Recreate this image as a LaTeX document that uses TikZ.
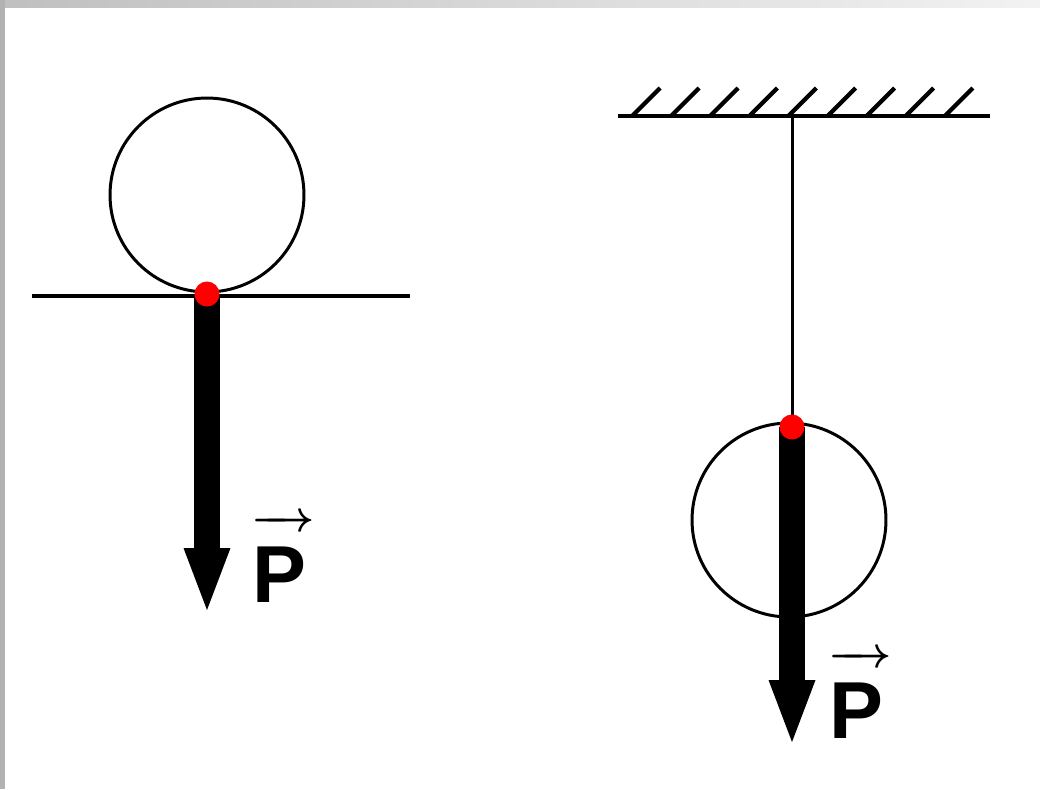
\documentclass[tikz,border=0pt]{standalone}
\usepackage{fontspec}
\setmainfont{Liberation Sans}
\usetikzlibrary{arrows.meta}

\tikzset{
  ball/.style={circle, draw, line width=1.7pt, minimum size=3.88cm, inner sep=0pt},
  contact/.style={circle, fill=red, minimum size=0.5cm, inner sep=0pt},
  weight/.style={line width=0.52cm, -{Triangle[width=0.94cm,length=1.24cm,line width=0pt]}},
  surface/.style={line width=2.6pt},
  hatch/.style={line width=2.4pt},
  thread/.style={line width=1.7pt},
  vecname/.style={font=\fontsize{46}{46}\selectfont\bfseries\boldmath, inner sep=0pt, anchor=base west},
}
\newcommand{\forcevec}[1]{$\overrightarrow{\rule{0pt}{41pt}\hbox{\kern0.5pt #1\kern5pt}}$}

\begin{document}
\begin{tikzpicture}[x=0.02cm, y=-0.02cm]
  % frame of the slide
  \fill[white] (0,0) rectangle (1040,789);
  \shade[left color=gray!50, right color=gray!10] (0,0) rectangle (1040,7);
  \fill[gray!60] (0,0) rectangle (5,789);
  \useasboundingbox (0,0) rectangle (1040,789);

  % ball lying on a table
  \node[ball] (ballA) at (207,195) {};
  \coordinate (tableL) at (32,296);
  \coordinate (tableR) at (410,296);
  \draw[surface] (tableL) -- (tableR);
  \coordinate (pA) at (207,294);
  \coordinate (tipA) at (207,610);
  \draw[weight] (pA) -- (tipA);
  \node[contact] (dotA) at (pA) {};
  \node[vecname] (labelA) at (251,602) {\forcevec{P}};

  % ball hanging on a thread
  \coordinate (ceilL) at (618,116);
  \coordinate (ceilR) at (990,116);
  \draw[surface] (ceilL) -- (ceilR);
  \foreach \i in {0,...,8} {
    \draw[hatch] (632+39.1*\i,116) -- ++(28,-28);
  }
  \coordinate (hook) at (792,116);
  \node[ball] (ballB) at (789,520) {};
  \coordinate (pB) at (792,427);
  \coordinate (tipB) at (792,742);
  \draw[thread] (hook) -- (pB);
  \draw[weight] (pB) -- (tipB);
  \node[contact] (dotB) at (pB) {};
  \node[vecname] (labelB) at (828,738) {\forcevec{P}};
\end{tikzpicture}
\end{document}
